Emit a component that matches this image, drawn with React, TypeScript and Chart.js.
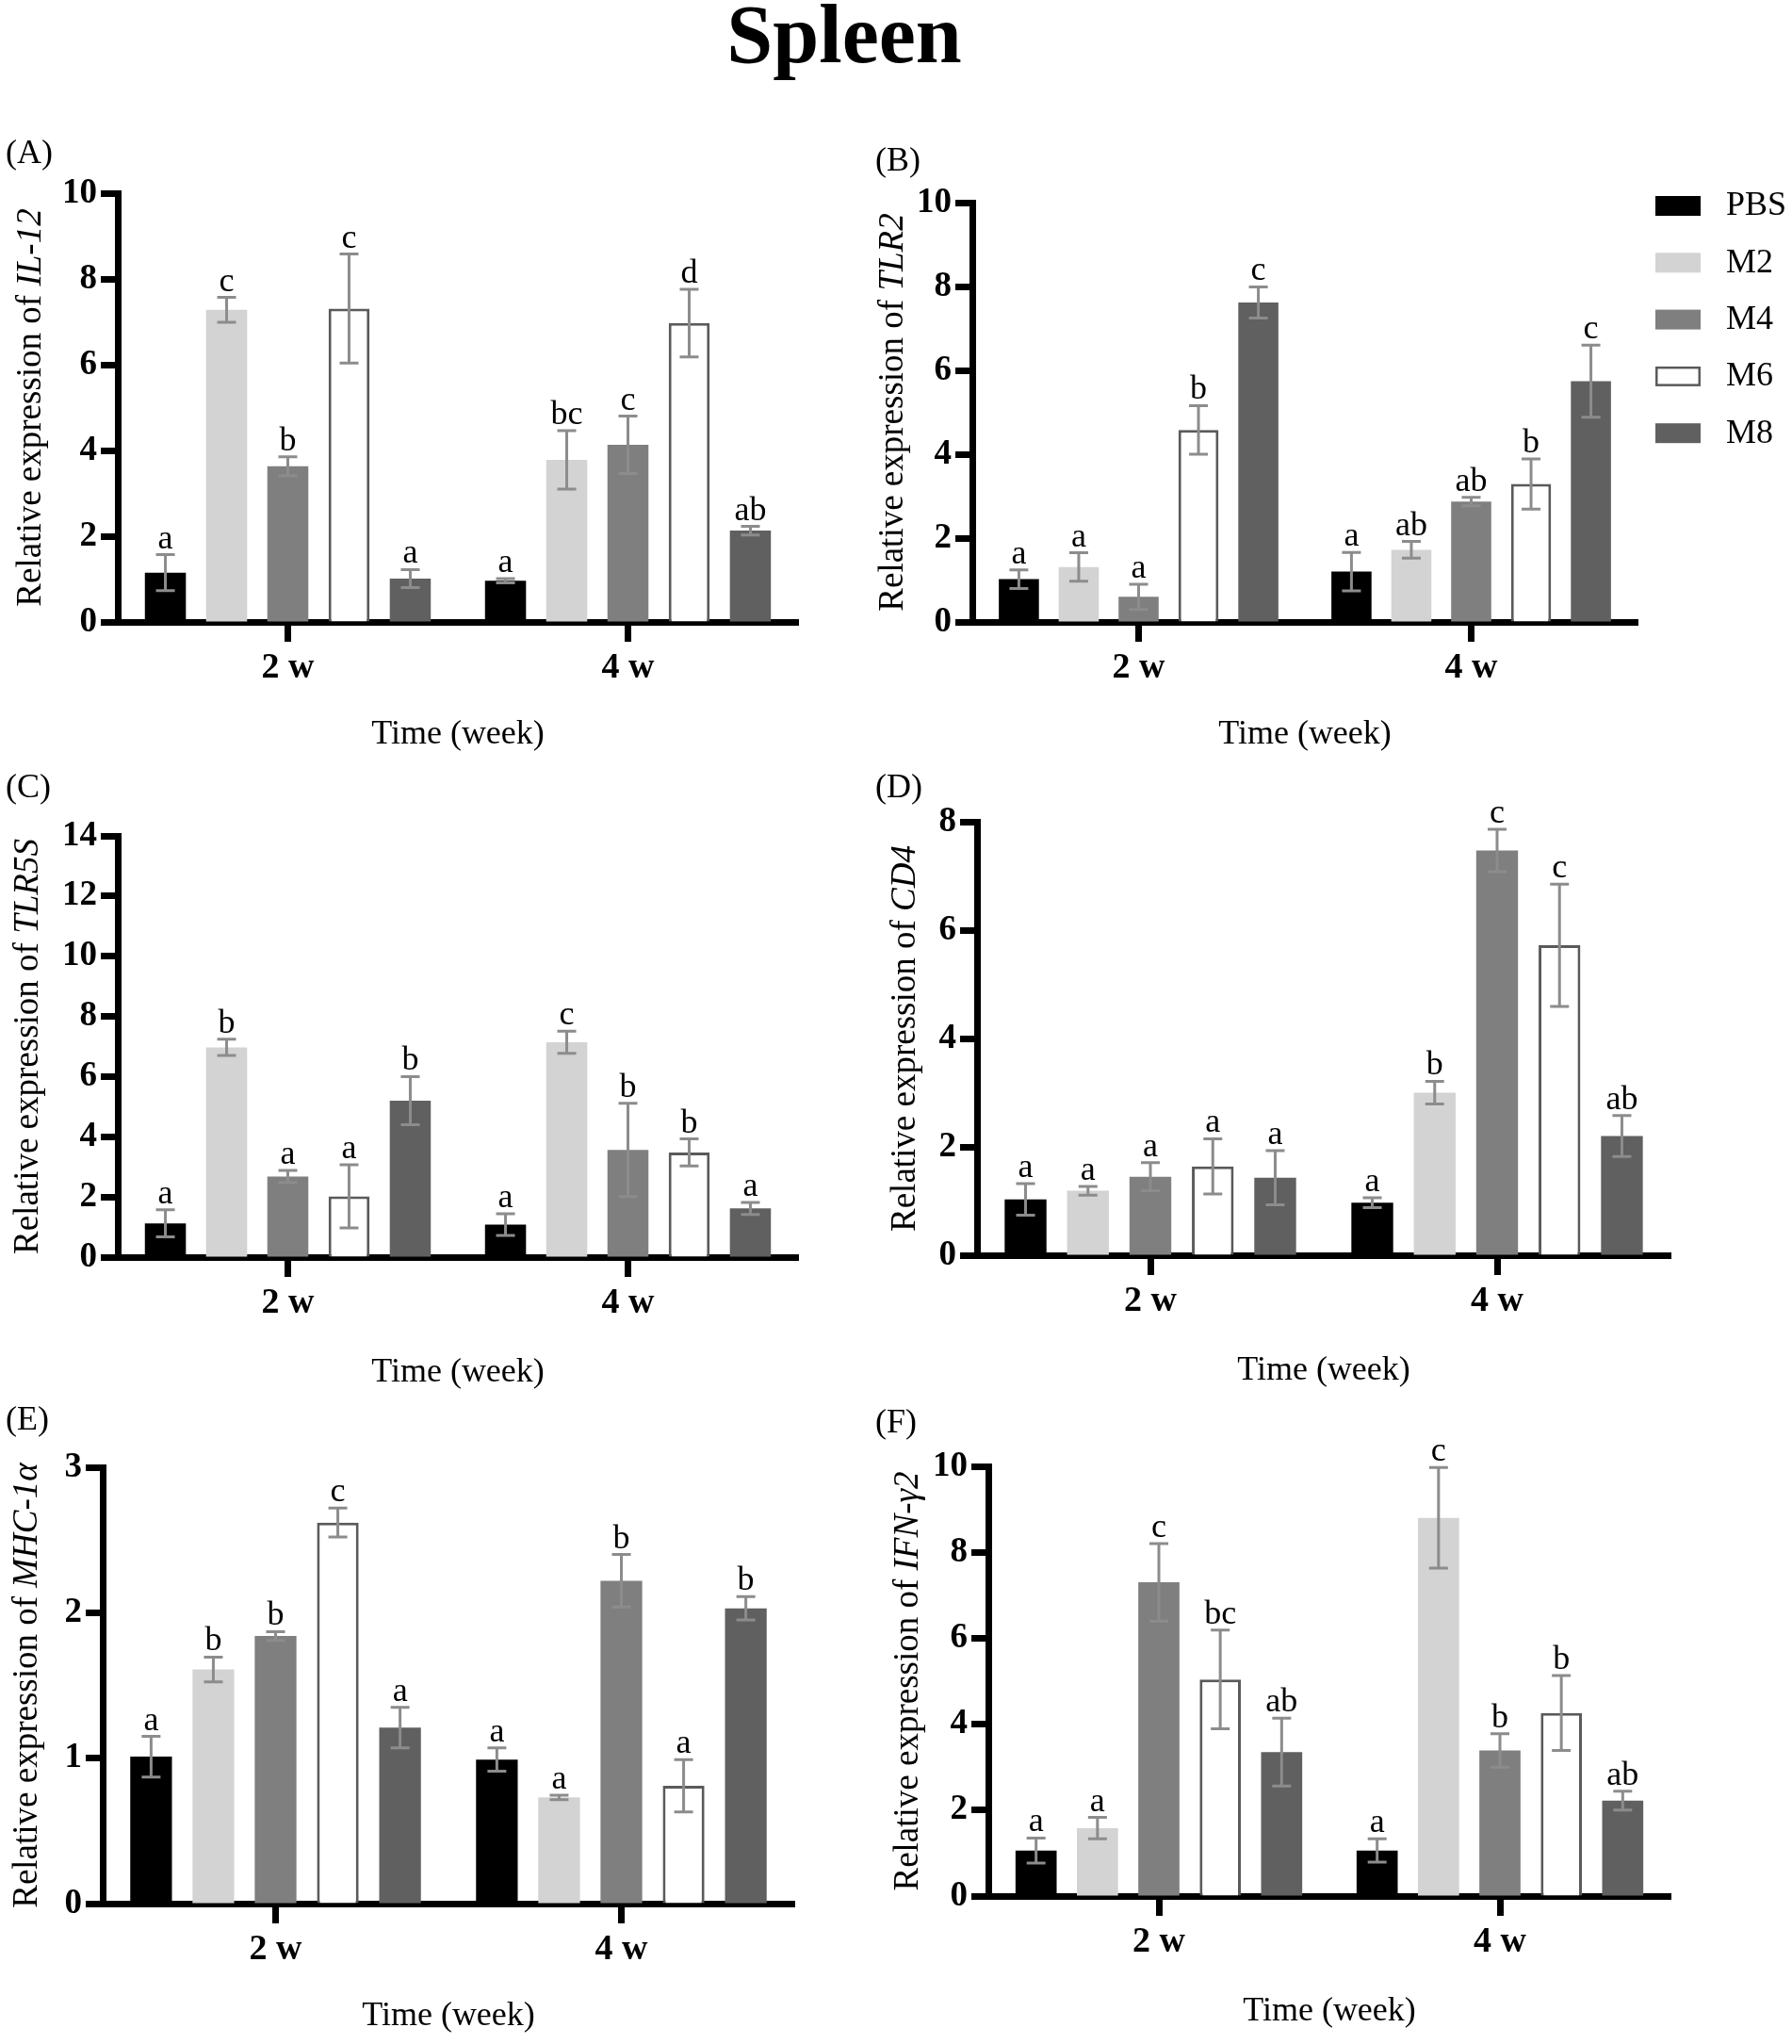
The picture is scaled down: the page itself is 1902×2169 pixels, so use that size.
import { useRef, useEffect } from 'react';
import { Chart, registerables } from 'chart.js';

Chart.register(...registerables);

// ---- data (rows: PBS, M2, M4, M6, M8; columns: 2 w, 4 w) ----
const WEEKS = ['2 w', '4 w'];
const GROUPS = ['PBS', 'M2', 'M4', 'M6', 'M8'];

const IL12_MEAN = [[1.15, 0.96], [7.28, 3.78], [3.63, 4.13], [7.31, 6.97], [1.01, 2.13]];
const IL12_SEM = [[0.42, 0.05], [0.29, 0.68], [0.22, 0.67], [1.27, 0.79], [0.21, 0.1]];
const IL12_SIG = [['a', 'a'], ['c', 'bc'], ['b', 'c'], ['c', 'd'], ['a', 'ab']];

const TLR2_MEAN = [[1.02, 1.2], [1.31, 1.72], [0.6, 2.87], [4.58, 3.29], [7.62, 5.74]];
const TLR2_SEM = [[0.22, 0.46], [0.34, 0.2], [0.3, 0.1], [0.58, 0.6], [0.37, 0.86]];
const TLR2_SIG = [['a', 'a'], ['a', 'ab'], ['a', 'ab'], ['b', 'b'], ['c', 'c']];

const TLR5S_MEAN = [[1.12, 1.08], [6.97, 7.14], [2.68, 3.56], [2.02, 3.48], [5.2, 1.62]];
const TLR5S_SEM = [[0.45, 0.36], [0.27, 0.37], [0.2, 1.55], [1.05, 0.45], [0.8, 0.2]];
const TLR5S_SIG = [['a', 'a'], ['b', 'c'], ['a', 'b'], ['a', 'b'], ['b', 'a']];

const CD4_MEAN = [[1.03, 0.97], [1.19, 3.0], [1.45, 7.47], [1.64, 5.72], [1.43, 2.2]];
const CD4_SEM = [[0.29, 0.09], [0.08, 0.21], [0.26, 0.39], [0.51, 1.13], [0.5, 0.38]];
const CD4_SIG = [['a', 'a'], ['a', 'b'], ['a', 'c'], ['a', 'c'], ['a', 'ab']];

const MHC_MEAN = [[1.01, 0.99], [1.61, 0.73], [1.84, 2.22], [2.62, 0.81], [1.21, 2.03]];
const MHC_SEM = [[0.14, 0.08], [0.085, 0.015], [0.03, 0.18], [0.1, 0.18], [0.14, 0.08]];
const MHC_SIG = [['a', 'a'], ['b', 'a'], ['b', 'b'], ['c', 'a'], ['a', 'b']];

const IFN_MEAN = [[1.06, 1.06], [1.58, 8.8], [7.3, 3.39], [5.04, 4.26], [3.35, 2.22]];
const IFN_SEM = [[0.29, 0.27], [0.25, 1.17], [0.9, 0.39], [1.15, 0.87], [0.79, 0.22]];
const IFN_SIG = [['a', 'a'], ['a', 'c'], ['c', 'b'], ['bc', 'b'], ['ab', 'ab']];

// ---- styles ----
const SERIF = '"Liberation Serif", "Times New Roman", serif';
const FILLS = ['#000000', '#d3d3d3', '#7f7f7f', '#ffffff', '#606060'];
const BORDERS = ['#000000', '#d3d3d3', '#7f7f7f', '#5a5a5a', '#606060'];
const ERR_COLOR = '#8c8c8c';

// box = canvas [x, y, w, h] on the page, area = chart area [l, t, r, b] on the page
const PANELS = [
    { tag: '(A)', gene: 'IL-12', means: IL12_MEAN, sem: IL12_SEM, sig: IL12_SIG, yMax: 10, yStep: 2,
      box: [0, 90, 900, 710], area: [125, 205, 847, 660], tagAt: [6, 173], yTitleX: 33, xTitleY: 780 },
    { tag: '(B)', gene: 'TLR2', means: TLR2_MEAN, sem: TLR2_SEM, sig: TLR2_SIG, yMax: 10, yStep: 2,
      box: [900, 90, 1002, 710], area: [1032, 215, 1738, 660], tagAt: [929, 181], yTitleX: 948, xTitleY: 780, legend: true },
    { tag: '(C)', gene: 'TLR5S', means: TLR5S_MEAN, sem: TLR5S_SEM, sig: TLR5S_SIG, yMax: 14, yStep: 2,
      box: [0, 800, 900, 680], area: [125, 887, 847, 1334], tagAt: [6, 846], yTitleX: 30, xTitleY: 1457 },
    { tag: '(D)', gene: 'CD4', means: CD4_MEAN, sem: CD4_SEM, sig: CD4_SIG, yMax: 8, yStep: 2,
      box: [900, 800, 1002, 680], area: [1037, 872, 1773, 1332], tagAt: [929, 846], yTitleX: 961, xTitleY: 1455 },
    { tag: '(E)', gene: 'MHC-1α', means: MHC_MEAN, sem: MHC_SEM, sig: MHC_SIG, yMax: 3, yStep: 1,
      box: [0, 1480, 900, 689], area: [109, 1557, 843, 2020], tagAt: [6, 1517], yTitleX: 29, xTitleY: 2140 },
    { tag: '(F)', gene: 'IFN-γ2', means: IFN_MEAN, sem: IFN_SEM, sig: IFN_SIG, yMax: 10, yStep: 2,
      box: [900, 1480, 1002, 689], area: [1049, 1556, 1773, 2012], tagAt: [929, 1520], yTitleX: 964, xTitleY: 2135 },
];

// error bars, significance letters, titles, panel tag and legend
const decorPlugin = {
    id: 'decor',
    afterDatasetsDraw(chart: any, _args: any, o: any) {
        const { ctx } = chart;
        const y = chart.scales.y;
        ctx.save();
        chart.data.datasets.forEach((ds: any, i: number) => {
            const meta = chart.getDatasetMeta(i);
            meta.data.forEach((bar: any, j: number) => {
                const v = ds.data[j];
                const e = o.sem[i][j];
                const x = bar.x;
                const hi = y.getPixelForValue(v + e);
                const lo = y.getPixelForValue(Math.max(0, v - e));
                ctx.strokeStyle = ERR_COLOR;
                ctx.lineWidth = 3;
                ctx.beginPath();
                ctx.moveTo(x, hi); ctx.lineTo(x, lo);
                ctx.moveTo(x - 10, hi); ctx.lineTo(x + 10, hi);
                ctx.moveTo(x - 10, lo); ctx.lineTo(x + 10, lo);
                ctx.stroke();
                ctx.fillStyle = '#000';
                ctx.font = `36px ${SERIF}`;
                ctx.textAlign = 'center';
                ctx.textBaseline = 'alphabetic';
                ctx.fillText(o.sig[i][j], x, hi - 7);
            });
        });
        ctx.restore();
    },
    afterDraw(chart: any, _args: any, o: any) {
        const { ctx, chartArea } = chart;
        ctx.save();
        ctx.fillStyle = '#000';

        // panel tag
        ctx.font = `36px ${SERIF}`;
        ctx.textAlign = 'left';
        ctx.textBaseline = 'alphabetic';
        ctx.fillText(o.tag, o.tagAt[0], o.tagAt[1]);

        // x title
        ctx.textAlign = 'center';
        ctx.textBaseline = 'middle';
        ctx.fillText('Time (week)', (chartArea.left + chartArea.right) / 2, o.xTitleY);

        // y title with italic gene name
        const pre = 'Relative expression of ';
        ctx.font = `37px ${SERIF}`;
        const w1 = ctx.measureText(pre).width;
        ctx.font = `italic 37px ${SERIF}`;
        const w2 = ctx.measureText(o.gene).width;
        ctx.translate(o.yTitleX, (chartArea.top + chartArea.bottom) / 2);
        ctx.rotate(-Math.PI / 2);
        ctx.textAlign = 'left';
        ctx.font = `37px ${SERIF}`;
        ctx.fillText(pre, -(w1 + w2) / 2, 0);
        ctx.font = `italic 37px ${SERIF}`;
        ctx.fillText(o.gene, -(w1 + w2) / 2 + w1, 0);
        ctx.restore();

        if (o.legend) {
            ctx.save();
            ctx.font = `36px ${SERIF}`;
            ctx.textAlign = 'left';
            ctx.textBaseline = 'middle';
            chart.data.datasets.forEach((ds: any, i: number) => {
                const top = o.legend.top + i * o.legend.pitch;
                ctx.fillStyle = ds.backgroundColor;
                ctx.fillRect(o.legend.x, top, 48, 21);
                if (ds.borderWidth > 0) {
                    ctx.strokeStyle = ds.borderColor;
                    ctx.lineWidth = 2.5;
                    ctx.strokeRect(o.legend.x + 1.25, top + 1.25, 45.5, 18.5);
                }
                ctx.fillStyle = '#000';
                ctx.fillText(ds.label, o.legend.labelX, top + 11);
            });
            ctx.restore();
        }
    },
};

const Panel = ({ p }: any) => {
    const canvasRef = useRef(null);
    const chartRef = useRef(null);
    const [bx, by, bw, bh] = p.box;
    const [al, at, ar, ab] = p.area;

    useEffect(() => {
        if (!canvasRef.current) return;
        if (chartRef.current) chartRef.current.destroy();

        chartRef.current = new Chart(canvasRef.current, {
            type: 'bar',
            data: {
                labels: WEEKS,
                datasets: GROUPS.map((g, i) => ({
                    label: g,
                    data: p.means[i],
                    backgroundColor: FILLS[i],
                    borderColor: BORDERS[i],
                    borderWidth: g === 'M6' ? 3 : 0,
                    categoryPercentage: 0.9,
                    barPercentage: 0.67,
                })),
            },
            options: {
                responsive: false,
                animation: false,
                layout: { padding: { left: 0, top: at - by, right: bx + bw - ar, bottom: 0 } },
                plugins: {
                    legend: { display: false },
                    tooltip: { enabled: false },
                    decor: {
                        tag: p.tag,
                        tagAt: [p.tagAt[0] - bx, p.tagAt[1] - by],
                        gene: p.gene,
                        sem: p.sem,
                        sig: p.sig,
                        yTitleX: p.yTitleX - bx,
                        xTitleY: p.xTitleY - by,
                        legend: p.legend ? { x: 1757 - bx, top: 208 - by, pitch: 60.3, labelX: 1832 - bx } : null,
                    },
                },
                scales: {
                    x: {
                        offset: true,
                        grid: { display: true, drawOnChartArea: false, drawTicks: true, offset: false, tickLength: 21, tickWidth: 7, tickColor: '#000' },
                        border: { display: true, color: '#000', width: 7 },
                        ticks: { color: '#000', padding: 5, maxRotation: 0, font: { family: SERIF, size: 38, weight: 'bold' } },
                        afterFit: (s: any) => { s.height = by + bh - ab; },
                    },
                    y: {
                        min: 0,
                        max: p.yMax,
                        grid: { display: true, drawOnChartArea: false, drawTicks: true, tickLength: 18, tickWidth: 7, tickColor: '#000' },
                        border: { display: true, color: '#000', width: 7 },
                        ticks: { stepSize: p.yStep, color: '#000', padding: 4, font: { family: SERIF, size: 37, weight: 'bold' } },
                        afterFit: (s: any) => { s.width = al - bx; },
                    },
                },
            },
            plugins: [decorPlugin],
        } as any);

        return () => { if (chartRef.current) { chartRef.current.destroy(); chartRef.current = null; } };
    }, [p]);

    return (
        <div style={{ position: 'absolute', left: bx, top: by, width: bw, height: bh }}>
            <canvas ref={canvasRef} width={bw} height={bh} style={{ width: bw, height: bh }}></canvas>
        </div>
    );
};

const App = () => (
    <div style={{ position: 'absolute', left: 0, top: 0, width: 1902, height: 2169, background: '#fff', overflow: 'hidden' }}>
        <div style={{ position: 'absolute', left: 0, top: -7, width: 1792, textAlign: 'center', fontFamily: SERIF, fontWeight: 'bold', fontSize: 88, lineHeight: '88px', color: '#000' }}>
            Spleen
        </div>
        {PANELS.map(p => <Panel key={p.tag} p={p} />)}
    </div>
);

export default App;
